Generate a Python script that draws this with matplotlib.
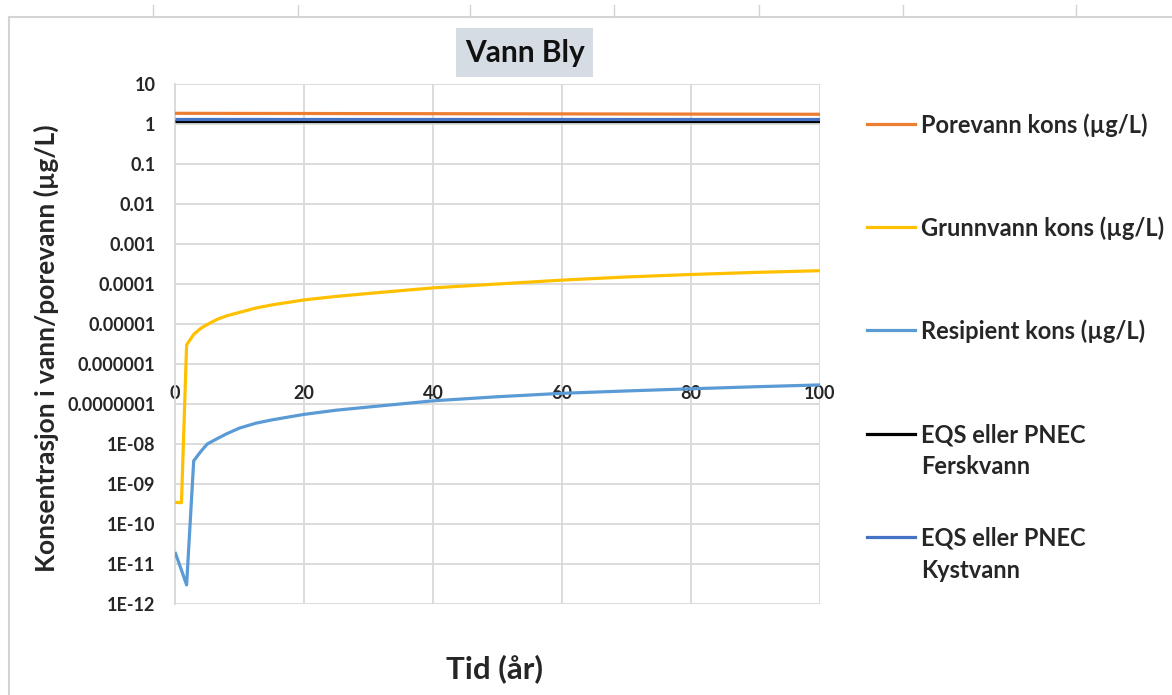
import matplotlib
matplotlib.use("Agg")
import matplotlib.pyplot as plt
from matplotlib.lines import Line2D
from matplotlib.patches import Rectangle
from matplotlib.ticker import FixedLocator, NullLocator

# ---------------- data ----------------
time_years = [0, 1, 1.8, 2.9, 4, 5, 6.5, 8, 10, 12.5, 15, 20, 25, 30, 40, 50, 60, 70, 80, 90, 100]
grunnvann = [3.5e-10, 3.4e-10, 3.0e-6, 5.5e-6, 7.8e-6, 9.7e-6, 1.3e-5, 1.6e-5, 1.95e-5, 2.5e-5,
             3.0e-5, 4.0e-5, 4.9e-5, 5.8e-5, 8.0e-5, 1.0e-4, 1.25e-4, 1.5e-4, 1.73e-4, 1.95e-4, 2.15e-4]
resipient = [2.0e-11, 7.0e-12, 3.0e-12, 3.8e-9, 6.5e-9, 1.0e-8, 1.35e-8, 1.8e-8, 2.5e-8, 3.3e-8,
             4.0e-8, 5.5e-8, 7.0e-8, 8.4e-8, 1.2e-7, 1.52e-7, 1.85e-7, 2.12e-7, 2.4e-7, 2.7e-7, 3.0e-7]
flat_time = [0, 100]
porevann = [1.85, 1.75]
eqs_fersk = [1.2, 1.2]
eqs_kyst = [1.3, 1.3]

series_labels = ["Porevann kons (µg/L)", "Grunnvann kons (µg/L)", "Resipient kons (µg/L)",
                 "EQS eller PNEC\nFerskvann", "EQS eller PNEC\nKystvann"]
series_colors = ["#ED7D31", "#FFC000", "#5B9BD5", "#000000", "#4472C4"]

x_ticks = [0, 20, 40, 60, 80, 100]
y_ticks = [1e1, 1e0, 1e-1, 1e-2, 1e-3, 1e-4, 1e-5, 1e-6, 1e-7, 1e-8, 1e-9, 1e-10, 1e-11, 1e-12]
y_tick_labels = ["10", "1", "0.1", "0.01", "0.001", "0.0001", "0.00001", "0.000001", "0.0000001",
                 "1E-08", "1E-09", "1E-10", "1E-11", "1E-12"]

title_text = "Vann Bly"
x_label = "Tid (år)"
y_label = "Konsentrasjon i vann/porevann (µg/L)"

# ---------------- figure ----------------
W, H = 1172, 695
plt.rcParams['font.family'] = ['Lato', 'DejaVu Sans']
fig = plt.figure(figsize=(W / 100, H / 100), dpi=100)
fig.patch.set_facecolor("white")

def fx(px):
    return px / W

def fy(py):
    return 1 - py / H

GRID = "#D9D9D9"
TXT = "#262626"

# spreadsheet frame decoration
fig.add_artist(Line2D([fx(9), fx(1172)], [fy(17), fy(17)], color="#D4D4D4", lw=1.5))
fig.add_artist(Line2D([fx(9), fx(9)], [fy(17), fy(695)], color="#D4D4D4", lw=1.5))
for xp in [153, 298, 470, 614, 759, 903, 1076]:
    fig.add_artist(Line2D([fx(xp), fx(xp)], [fy(5), fy(17)], color="#D4D4D4", lw=1.0))

ax = fig.add_axes([fx(175), fy(604), (820 - 175) / W, (604 - 84) / H])
ax.set_yscale("log")
ax.set_xlim(0, 100)
ax.set_ylim(1e-12, 10)

ys = [porevann, grunnvann, resipient, eqs_fersk, eqs_kyst]
xs = [flat_time, time_years, time_years, flat_time, flat_time]
for xv, yv, c in zip(xs, ys, series_colors):
    ax.plot(xv, yv, color=c, lw=2.3, solid_joinstyle="round", solid_capstyle="butt", zorder=3)

ax.yaxis.set_major_locator(FixedLocator(y_ticks))
ax.yaxis.set_minor_locator(NullLocator())
ax.set_yticklabels(y_tick_labels)
ax.xaxis.set_major_locator(FixedLocator(x_ticks))
ax.set_xticklabels([str(t) for t in x_ticks])

ax.grid(True, which="major", color=GRID, lw=1.3, zorder=0)
for s in ["top", "right", "bottom"]:
    ax.spines[s].set_visible(False)
ax.spines["left"].set_color(GRID)
ax.spines["left"].set_linewidth(1.3)
ax.spines["bottom"].set_position(("data", 1e-6))
ax.tick_params(axis="both", length=0)
ax.tick_params(axis="y", pad=14, labelsize=13, labelcolor=TXT)
ax.tick_params(axis="x", pad=15, labelsize=13, labelcolor=TXT)
for lab in ax.get_xticklabels() + ax.get_yticklabels():
    lab.set_fontweight("bold")

# title with box
fig.add_artist(Rectangle((fx(456), fy(77)), (593 - 456) / W, (77 - 28) / H,
                         facecolor="#D6DCE4", edgecolor="none", transform=fig.transFigure))
fig.text(fx(525), fy(53), title_text, ha="center", va="center", fontsize=21.5,
         fontweight="bold", color="#111111")

fig.text(fx(495), fy(669), x_label, ha="center", va="center", fontsize=22.5,
         fontweight="bold", color=TXT)
fig.text(fx(46), fy(348), y_label, ha="center", va="center", rotation=90, fontsize=19,
         fontweight="bold", color=TXT)

# legend (manual, Excel style: handle aligned to first text line)
leg_y = [125, 228, 331, 435, 538]
for lab, c, yp in zip(series_labels, series_colors, leg_y):
    fig.add_artist(Line2D([fx(867), fx(915)], [fy(yp - 1), fy(yp - 1)], color=c, lw=2.3))
    for i, line in enumerate(lab.split("\n")):
        fig.text(fx(921), fy(yp + 32 * i), line, ha="left", va="center", fontsize=17,
                 fontweight="bold", color=TXT)

fig.savefig("out.png", dpi=100, facecolor="white")
